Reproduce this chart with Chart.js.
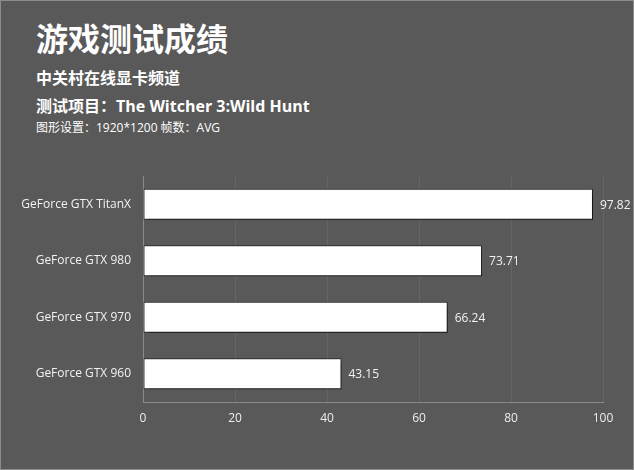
<!DOCTYPE html>
<html><head><meta charset="utf-8">
<script src="https://cdn.jsdelivr.net/npm/chart.js@4.4.0/dist/chart.umd.min.js"></script>
<style>
html,body{margin:0;padding:0;background:#595959;}
#wrap{position:relative;width:634px;height:470px;box-sizing:border-box;border:1px solid #8c8c8c;overflow:hidden;font-family:"Open Sans","Noto Sans CJK SC",sans-serif;color:#fff;}
#wrap canvas{position:absolute;left:-1px;top:-1px;}
.t{position:absolute;white-space:nowrap;font-weight:bold;}
</style></head>
<body><div id="wrap">
<div class="t" style="left:35px;top:17px;font-size:32px;line-height:42px;">游戏测试成绩</div>
<div class="t" style="left:35px;top:66px;font-size:16px;line-height:22px;">中关村在线显卡频道</div>
<div class="t" style="left:35px;top:94px;font-size:16px;line-height:22px;">测试项目：The Witcher 3:Wild Hunt</div>
<div class="t" style="left:35px;top:119px;font-size:12px;line-height:16px;font-weight:normal;">图形设置：1920*1200 帧数：AVG</div>
<canvas id="c" width="634" height="470"></canvas>
</div>
<script>
const categories = ["GeForce GTX TitanX","GeForce GTX 980","GeForce GTX 970","GeForce GTX 960"];
const fpsValues = [97.82, 73.71, 66.24, 43.15];
const xTicks = [0, 20, 40, 60, 80, 100];
const FONT = '"Open Sans","Noto Sans CJK SC",sans-serif';

const valueLabels = {
  id:'valueLabels',
  afterDatasetsDraw(chart){
    const ctx = chart.ctx;
    const meta = chart.getDatasetMeta(0);
    ctx.save();
    ctx.fillStyle = '#f2f2f2';
    ctx.font = '12px ' + FONT;
    ctx.textBaseline = 'middle';
    ctx.textAlign = 'left';
    meta.data.forEach((bar,i)=>{
      ctx.fillText(fpsValues[i].toFixed(2), bar.x + 7, bar.y + 1);
    });
    ctx.restore();
  }
};
const barShadow = {
  id:'barShadow',
  beforeDatasetDraw(chart){
    const ctx = chart.ctx;
    ctx.save();
    ctx.shadowColor = 'rgba(0,0,0,0.55)';
    ctx.shadowBlur = 4;
    ctx.shadowOffsetX = 3;
    ctx.shadowOffsetY = 3;
  },
  afterDatasetDraw(chart){
    chart.ctx.restore();
  }
};

new Chart(document.getElementById('c'), {
  type:'bar',
  data:{
    labels: categories,
    datasets:[{
      data: fpsValues,
      backgroundColor:'#ffffff',
      borderColor:'#262626',
      borderWidth:1,
      borderSkipped:false,
      categoryPercentage:0.55,
      barPercentage:1.0
    }]
  },
  options:{
    indexAxis:'y',
    responsive:false,
    animation:false,
    events:[],
    layout:{padding:{top:176,left:0,right:31,bottom:0}},
    plugins:{legend:{display:false},tooltip:{enabled:false},title:{display:false}},
    scales:{
      x:{
        min:0,max:100,
        afterBuildTicks(s){ s.ticks = xTicks.map(v=>({value:v})); },
        afterFit(s){ s.height = 68; },
        grid:{color:'#656565',lineWidth:1,drawTicks:false},
        border:{color:'#8a8a8a',width:1},
        ticks:{color:'#eeeeee',padding:9,font:{size:12,family:FONT}}
      },
      y:{
        afterFit(s){ s.width = 143; },
        grid:{display:false,drawTicks:false},
        border:{color:'#8a8a8a',width:1},
        ticks:{color:'#f2f2f2',padding:12,font:{size:12,family:FONT}}
      }
    }
  },
  plugins:[barShadow, valueLabels]
});
</script>
</body></html>
